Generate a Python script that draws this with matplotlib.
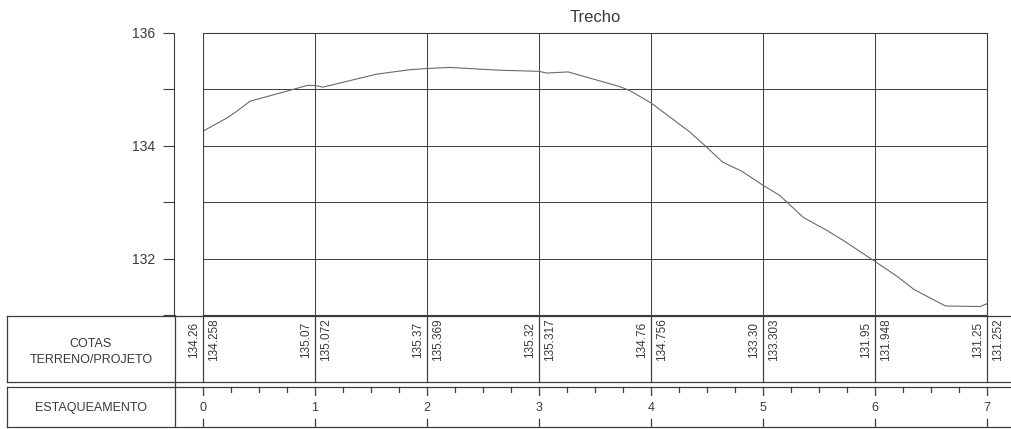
import numpy as np
import matplotlib.pyplot as plt

# perfil do terreno (estaca, cota)
estaca_perfil = [0.00, 0.22, 0.30, 0.42, 0.84, 0.93, 1.00, 1.07, 1.55, 1.85,
                 2.00, 2.20, 2.65, 3.00, 3.07, 3.26, 3.72, 3.81, 4.00, 4.35,
                 4.50, 4.64, 4.81, 5.00, 5.15, 5.36, 5.57, 5.71, 6.00, 6.20,
                 6.35, 6.63, 6.94, 7.00]
cota_perfil = [134.26, 134.50, 134.61, 134.79, 135.02, 135.07, 135.07, 135.04, 135.27, 135.35,
               135.37, 135.39, 135.34, 135.32, 135.29, 135.31, 135.05, 134.98, 134.76, 134.24,
               133.97, 133.71, 133.55, 133.30, 133.12, 132.73, 132.50, 132.33, 131.95, 131.68,
               131.45, 131.16, 131.15, 131.20]

estacas = [0, 1, 2, 3, 4, 5, 6, 7]
cotas_terreno = ["134.26", "135.07", "135.37", "135.32", "134.76", "133.30", "131.95", "131.25"]
cotas_projeto = ["134.258", "135.072", "135.369", "135.317", "134.756", "133.303", "131.948", "131.252"]

y_major = [132, 134, 136]
y_minor = [131, 133, 135]

plt.rcParams['font.family'] = ['Liberation Sans Narrow', 'Liberation Sans', 'DejaVu Sans']

W, H = 1011, 429
X0, DX = 203, 112          # pixel da estaca 0 e largura de uma estaca
LINE = '#3c3c3c'
TXT = '#3a3a3a'

fig = plt.figure(figsize=(W / 100, H / 100), dpi=100)

# -------------------------------
# grafico do perfil
# -------------------------------
ax = fig.add_axes([X0 / W, 1 - 315 / H, (987 - X0) / W, (315 - 33) / H])
ax.plot(estaca_perfil, cota_perfil, color='#6a6a6a', lw=0.8)
ax.set_xlim(0, 7)
ax.set_ylim(131, 136)
ax.set_xticks(estacas)
ax.set_yticks(y_major)
ax.set_yticks(y_minor, minor=True)
ax.set_yticklabels([str(v) for v in y_major], family=['Liberation Sans', 'DejaVu Sans'],
                   fontsize=9)
ax.grid(True, which='both', color=LINE, lw=0.7)
ax.tick_params(axis='x', length=0, labelbottom=False)
ax.tick_params(axis='y', which='both', direction='out', length=8, width=0.8,
               color=LINE, labelcolor=TXT, pad=5.5)
ax.spines['left'].set_position(('outward', 21))
for s in ax.spines.values():
    s.set_color(LINE)
    s.set_linewidth(0.8)
ax.axvline(0, color=LINE, lw=0.8)
ax.set_title("Trecho", fontsize=12, color=TXT, pad=8,
             family=['Liberation Sans', 'DejaVu Sans'])

# -------------------------------
# tabela (cotas e estaqueamento)
# -------------------------------
tax = fig.add_axes([0, 0, 1, (H - 315) / H])
tax.set_xlim((0 - X0) / DX, (W - X0) / DX)
tax.set_ylim(H, 315)
tax.axis('off')

xl = (7 - X0) / DX
xs = (175 - X0) / DX
xr = (W - X0) / DX
kw = dict(color=LINE, lw=0.9)
for yy in [315.5, 382, 387, 427]:
    tax.plot([xl, xr], [yy, yy], **kw)
tax.plot([xl, xl], [315.5, 382], **kw)
tax.plot([xl, xl], [387, 427], **kw)
tax.plot([xs, xs], [315, 427], **kw)

for e, t, p in zip(estacas, cotas_terreno, cotas_projeto):
    tax.plot([e, e], [315.5, 382], **kw)
    tax.text(e - 3 / DX, 340, t, rotation=90, ha='right', va='center',
             fontsize=8.5, color=TXT)
    tax.text(e + 5 / DX, 340, p, rotation=90, ha='left', va='center',
             fontsize=8.5, color=TXT)
    tax.text(e, 408, str(e), ha='center', va='center', fontsize=9, color=TXT)
    tax.plot([e, e], [419, 427], **kw)

for e in np.arange(0, 7.001, 0.25):
    comp = 8 if e % 1 == 0 else 5
    tax.plot([e, e], [387, 387 + comp], **kw)

xc = ((7 + 175) / 2 - X0) / DX
tax.text(xc, 344, "COTAS", ha='center', va='center', fontsize=9, color=TXT)
tax.text(xc, 360, "TERRENO/PROJETO", ha='center', va='center', fontsize=9, color=TXT)
tax.text(xc, 408, "ESTAQUEAMENTO", ha='center', va='center', fontsize=9, color=TXT)

fig.savefig("out.png", dpi=100)
